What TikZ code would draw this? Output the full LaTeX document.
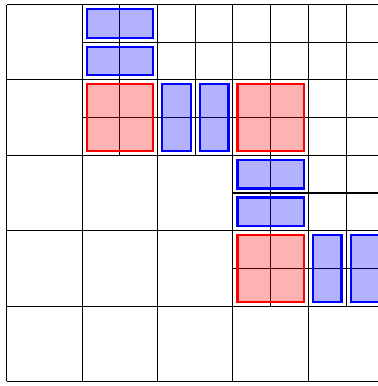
\documentclass[tikz,border=0pt]{standalone}
\usepackage{tikz}
\usetikzlibrary{positioning}

\begin{document}
\begin{tikzpicture}[
    hface/.style={draw=blue, fill=blue, fill opacity=0.3, draw opacity=1, thick,
      minimum width=0.88cm, minimum height=0.38cm, inner sep=0pt},
    vface/.style={draw=blue, fill=blue, fill opacity=0.3, draw opacity=1, thick,
      minimum width=0.38cm, minimum height=0.88cm, inner sep=0pt},
    cellc/.style={draw=red, fill=red, fill opacity=0.3, draw opacity=1, thick,
      minimum width=0.88cm, minimum height=0.88cm, inner sep=0pt}
  ]
    \useasboundingbox (-0.09,-5.06) rectangle (4.92,0.06);

    % coarse grid and refined blocks
    \draw (0,-5) grid (5,0);
    \draw[step=0.5cm] (1,-2) grid (5,0);
    \draw[step=0.5cm] (3,-4) grid (5,-2);

    % cell centres
    \node[cellc] (c1) at (1.5,-1.5) {};
    \node[cellc] (c2) at (3.5,-1.5) {};
    \node[cellc] (c3) at (3.5,-3.5) {};

    % horizontal faces
    \foreach \x/\y [count=\i] in {1.5/-0.25, 1.5/-0.75, 3.5/-2.25, 3.5/-2.75}
      \node[hface] (h\i) at (\x,\y) {};

    % vertical faces
    \foreach \x/\y [count=\i] in {2.25/-1.5, 2.75/-1.5, 4.25/-3.5, 4.75/-3.5}
      \node[vface] (v\i) at (\x,\y) {};
  \end{tikzpicture}
\end{document}
